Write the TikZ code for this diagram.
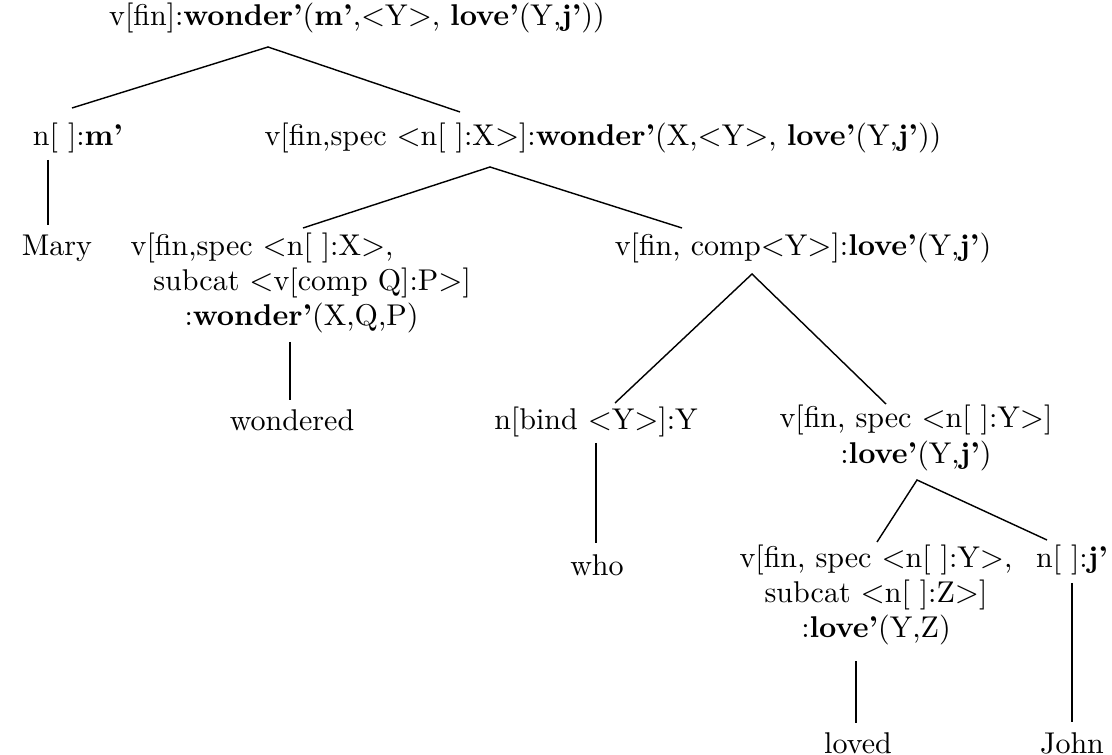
\documentclass[tikz,border=0pt]{standalone}
\usepackage{amsmath}
\usepackage{tikz}
\usetikzlibrary{positioning}

\newcommand{\ang}[1]{$<$#1$>$}

\begin{document}
\begin{tikzpicture}[x=0.0124cm,y=-0.0124cm,line width=0.5pt,
		cat/.style={inner sep=0pt,align=center,font=\fontsize{10.6}{12.4}\selectfont},
		word/.style={inner sep=0pt,font=\fontsize{10.6}{12.4}\selectfont}]
		\useasboundingbox (0,0) rectangle (1112,755);
		
		% categories
		\node (top) [cat] at (357,18) {v[fin]:\textbf{wonder'}(\textbf{m'},\ang{Y}, \textbf{love'}(Y,\textbf{j'}))};
		\node (nm) [cat] at (78,138) {n[\ ]:\textbf{m'}};
		\node (vp) [cat] at (603,138) {v[fin,spec \ang{n[\ ]:X}]:\textbf{wonder'}(X,\ang{Y}, \textbf{love'}(Y,\textbf{j'}))};
		\node (vw) [cat,align=left,anchor=west] at (130,283) {v[fin,spec \ang{n[\ ]:X},\\
			\hspace*{8pt}subcat \ang{v[comp Q]:P}]\\
			\hspace*{19pt}:\textbf{wonder'}(X,Q,P)};
		\node (vc) [cat] at (803,248) {v[fin, comp\ang{Y}]:\textbf{love'}(Y,\textbf{j'})};
		\node (nb) [cat] at (596,422) {n[bind \ang{Y}]:Y};
		\node (vs) [cat] at (916,438) {v[fin, spec \ang{n[\ ]:Y}]\\:\textbf{love'}(Y,\textbf{j'})};
		\node (vl) [cat] at (876,595) {v[fin, spec \ang{n[\ ]:Y},\\subcat \ang{n[\ ]:Z}]\\:\textbf{love'}(Y,Z)};
		\node (nj) [cat] at (1072,560) {n[\ ]:\textbf{j'}};
		
		% words
		\node (mary) [word] at (57,248) {Mary};
		\node (wondered) [word] at (292,420) {wondered};
		\node (who) [word] at (597,565) {who};
		\node (loved) [word] at (858,743) {loved};
		\node (john) [word] at (1072,743) {John};
		
		% branch points
		\coordinate (top-b) at (268,47);
		\coordinate (vp-b) at (490,167);
		\coordinate (vc-b) at (752,274);
		\coordinate (vs-b) at (917,480);
		\coordinate (nm-t) at (72,108);
		\coordinate (vp-t) at (460,112);
		\coordinate (vw-t) at (303,228);
		\coordinate (vc-t) at (682,228);
		\coordinate (nb-t) at (615,403);
		\coordinate (vs-t) at (886,404);
		\coordinate (vl-t) at (877,542);
		\coordinate (nj-t) at (1047,540);
		
		\draw (nm-t) -- (top-b) -- (vp-t);
		\draw (vw-t) -- (vp-b) -- (vc-t);
		\draw (nb-t) -- (vc-b) -- (vs-t);
		\draw (vl-t) -- (vs-b) -- (nj-t);
		
		% lexical lines
		\coordinate (nm-l) at (48,160);   \coordinate (mary-t) at (48,225);
		\coordinate (vw-l) at (290,342);  \coordinate (wondered-t) at (290,400);
		\coordinate (nb-l) at (596,443);  \coordinate (who-t) at (596,543);
		\coordinate (vl-l) at (856,661);  \coordinate (loved-t) at (856,723);
		\coordinate (nj-l) at (1072,583); \coordinate (john-t) at (1072,722);
		\draw (nm-l) -- (mary-t);
		\draw (vw-l) -- (wondered-t);
		\draw (nb-l) -- (who-t);
		\draw (vl-l) -- (loved-t);
		\draw (nj-l) -- (john-t);
\end{tikzpicture}
\end{document}
